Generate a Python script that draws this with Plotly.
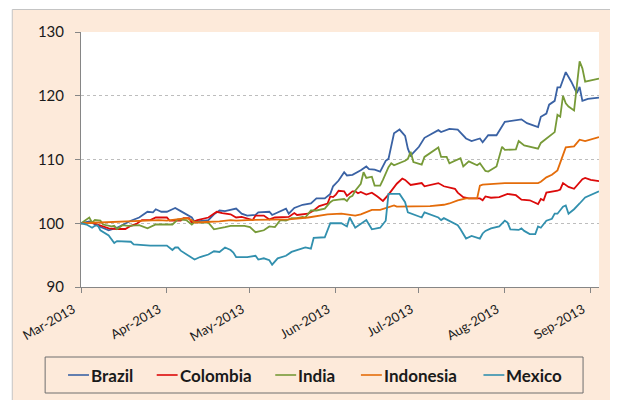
import plotly.graph_objects as go

# ---------------- data ----------------
brazil_dates = ["2013-03-01","2013-03-04","2013-03-07","2013-03-11","2013-03-14","2013-03-19","2013-03-22","2013-03-25","2013-03-27","2013-03-28","2013-03-30",
    "2013-04-01","2013-04-03","2013-04-04","2013-04-06","2013-04-10","2013-04-11","2013-04-12","2013-04-16","2013-04-18","2013-04-20","2013-04-22","2013-04-26","2013-04-28","2013-04-30",
    "2013-05-03","2013-05-04","2013-05-06","2013-05-08","2013-05-09","2013-05-12","2013-05-14","2013-05-15","2013-05-17","2013-05-20","2013-05-23","2013-05-25","2013-05-28","2013-05-30","2013-05-31",
    "2013-06-02","2013-06-04","2013-06-05","2013-06-07","2013-06-10","2013-06-12","2013-06-13","2013-06-15","2013-06-17","2013-06-19","2013-06-20","2013-06-22","2013-06-24","2013-06-26","2013-06-27","2013-06-28",
    "2013-07-01","2013-07-03","2013-07-08","2013-07-09","2013-07-12","2013-07-15","2013-07-18","2013-07-20","2013-07-23","2013-07-24","2013-07-26","2013-07-29",
    "2013-08-01","2013-08-05","2013-08-07","2013-08-09","2013-08-13","2013-08-14","2013-08-16","2013-08-17","2013-08-19","2013-08-20","2013-08-21","2013-08-23","2013-08-25","2013-08-27","2013-08-28","2013-08-29","2013-08-31",
    "2013-09-04"]
brazil = [100,100.3,99.6,98.9,99.3,100.4,100.9,101.8,101.7,102.2,101.8,
    101.8,102.2,102.4,101.9,100.9,100.2,100.3,100.5,101.4,102.0,101.9,102.3,101.5,101.2,
    101.3,101.7,101.7,101.8,101.3,101.9,102.3,101.5,102.4,102.9,103.1,103.9,103.9,104.6,105.8,
    106.7,108.0,107.5,107.6,108.3,108.9,108.5,108.4,108.1,109.8,110.1,114.1,114.7,113.7,111.7,110.6,
    112.0,113.4,114.6,114.3,114.8,114.7,113.3,112.9,113.3,112.7,113.8,113.8,
    115.9,116.1,116.3,115.7,115.1,116.7,117.2,118.6,119.2,121.3,121.3,123.7,122.2,120.4,121.4,119.2,119.5,
    119.7]

colombia_dates = ["2013-03-01","2013-03-05","2013-03-07","2013-03-11","2013-03-14","2013-03-17","2013-03-19","2013-03-21","2013-03-23","2013-03-26","2013-03-28",
    "2013-04-01","2013-04-02","2013-04-06","2013-04-07","2013-04-09","2013-04-10","2013-04-12","2013-04-16","2013-04-17","2013-04-19","2013-04-21","2013-04-23","2013-04-24","2013-04-26","2013-04-28",
    "2013-05-02","2013-05-03","2013-05-06","2013-05-08","2013-05-10","2013-05-15","2013-05-17","2013-05-18","2013-05-22","2013-05-24","2013-05-26","2013-05-29","2013-05-30","2013-05-31",
    "2013-06-01","2013-06-02","2013-06-04","2013-06-05","2013-06-07","2013-06-08","2013-06-09","2013-06-10","2013-06-12","2013-06-14","2013-06-16","2013-06-18","2013-06-20","2013-06-21","2013-06-23","2013-06-25","2013-06-26","2013-06-28",
    "2013-07-02","2013-07-03","2013-07-08","2013-07-10","2013-07-14","2013-07-15","2013-07-17","2013-07-19","2013-07-23","2013-07-24","2013-07-25","2013-07-27","2013-07-30",
    "2013-08-02","2013-08-05","2013-08-07","2013-08-10","2013-08-13","2013-08-14","2013-08-15","2013-08-16","2013-08-20","2013-08-21","2013-08-22","2013-08-24","2013-08-26","2013-08-29","2013-08-30",
    "2013-09-01","2013-09-04"]
colombia = [100,100.1,99.8,99.2,99.1,99.1,99.6,99.9,100.5,100.5,100.9,
    100.9,100.4,100.4,100.8,100.8,100.1,100.5,100.9,101.2,101.8,101.6,101.5,101.4,100.9,101.0,
    100.5,101.2,101.2,100.6,100.9,101.0,101.6,101.3,101.5,102.0,102.7,103.1,104.2,104.1,
    104.5,105.1,105.0,104.3,105.0,105.0,104.7,104.9,104.5,104.8,104.2,103.5,104.5,105.1,106.2,107.0,106.8,106.0,
    106.3,105.8,106.3,105.8,105.4,104.8,104.1,103.9,103.9,103.6,104.2,104.0,104.1,
    104.6,104.4,103.7,103.6,103.0,103.8,103.6,104.8,105.1,105.3,106.3,105.7,105.4,106.9,107.1,
    106.8,106.6]

india_dates = ["2013-03-01","2013-03-04","2013-03-05","2013-03-06","2013-03-08","2013-03-09","2013-03-12","2013-03-13","2013-03-14","2013-03-16","2013-03-18","2013-03-22","2013-03-25","2013-03-28",
    "2013-04-03","2013-04-05","2013-04-08","2013-04-10","2013-04-11","2013-04-13","2013-04-16","2013-04-18","2013-04-22","2013-04-24","2013-04-26","2013-04-29",
    "2013-05-01","2013-05-03","2013-05-06","2013-05-08","2013-05-10","2013-05-12","2013-05-14","2013-05-16","2013-05-18","2013-05-20","2013-05-21","2013-05-23","2013-05-25","2013-05-28","2013-05-30","2013-05-31",
    "2013-06-02","2013-06-04","2013-06-05","2013-06-06","2013-06-07","2013-06-08","2013-06-10","2013-06-11","2013-06-12","2013-06-14","2013-06-15","2013-06-17","2013-06-18","2013-06-20","2013-06-21","2013-06-22","2013-06-26","2013-06-27","2013-06-28","2013-06-29",
    "2013-07-02","2013-07-03","2013-07-08","2013-07-09","2013-07-11","2013-07-12","2013-07-16","2013-07-17","2013-07-19","2013-07-22","2013-07-23","2013-07-25","2013-07-26","2013-07-29","2013-07-31",
    "2013-08-01","2013-08-05","2013-08-06","2013-08-08","2013-08-13","2013-08-14","2013-08-19","2013-08-20","2013-08-21","2013-08-22","2013-08-23","2013-08-24","2013-08-26","2013-08-28","2013-08-29","2013-08-30",
    "2013-09-04"]
india = [100,100.9,100.1,100.5,100.4,99.8,99.5,99.6,99.1,99.7,99.6,99.7,99.2,99.8,
    99.8,100.6,100.5,99.8,100.2,100.1,100.1,99.05,99.4,99.6,99.6,99.6,
    99.4,98.6,98.9,99.5,99.4,100.5,100.4,100.8,100.8,101.0,100.9,102.0,102.0,102.3,103.3,103.6,
    103.7,103.8,103.5,104.1,104.3,105.1,106.2,108.0,107.1,107.3,105.9,105.9,106.8,108.8,109.4,109.1,109.8,110.1,111.2,109.6,
    109.2,110.4,111.9,110.4,110.4,109.4,110.2,108.9,109.7,109.1,109.4,108.2,108.1,108.9,112.0,
    111.5,111.6,112.9,112.2,111.7,112.6,114.3,117.0,116.7,120.0,118.8,118.3,117.7,125.4,124.3,122.2,
    122.7]

indonesia_dates = ["2013-03-01","2013-03-07","2013-03-13","2013-03-19","2013-03-25","2013-03-29",
    "2013-04-01","2013-04-05","2013-04-08","2013-04-10","2013-04-11","2013-04-15","2013-04-20","2013-04-24","2013-04-26","2013-04-30",
    "2013-05-09","2013-05-15","2013-05-22","2013-05-27","2013-05-29",
    "2013-06-03","2013-06-05","2013-06-08","2013-06-10","2013-06-14","2013-06-17","2013-06-21","2013-06-22","2013-06-23","2013-06-27",
    "2013-07-02","2013-07-05","2013-07-10","2013-07-12","2013-07-15","2013-07-18","2013-07-22","2013-07-23","2013-07-24",
    "2013-08-01","2013-08-13","2013-08-14","2013-08-16","2013-08-18","2013-08-20","2013-08-22","2013-08-23","2013-08-26","2013-08-28","2013-08-30",
    "2013-09-04"]
indonesia = [100,100.1,100.2,100.4,100.5,100.5,
    100.4,100.6,100.8,100.5,100.1,100.2,100.3,100.5,100.4,100.5,
    100.5,100.6,100.9,101.3,101.4,
    101.5,101.4,101.2,101.4,102.1,102.1,102.7,102.8,102.6,102.6,
    102.7,102.7,102.9,103.1,103.6,103.9,103.9,105.9,106.05,
    106.3,106.3,106.5,107.2,107.6,108.3,110.6,111.9,112.05,113.1,112.9,
    113.5]

mexico_dates = ["2013-03-01","2013-03-03","2013-03-05","2013-03-06","2013-03-07","2013-03-08","2013-03-11","2013-03-13","2013-03-14","2013-03-16","2013-03-19","2013-03-20","2013-03-23","2013-03-26",
    "2013-04-01","2013-04-03","2013-04-04","2013-04-05","2013-04-06","2013-04-09","2013-04-11","2013-04-13","2013-04-15","2013-04-16","2013-04-18","2013-04-20","2013-04-22","2013-04-24","2013-04-25","2013-04-26","2013-04-30",
    "2013-05-03","2013-05-04","2013-05-06","2013-05-08","2013-05-09","2013-05-11","2013-05-14","2013-05-16","2013-05-21","2013-05-23","2013-05-24","2013-05-28","2013-05-30",
    "2013-06-03","2013-06-05","2013-06-06","2013-06-08","2013-06-12","2013-06-14","2013-06-17","2013-06-19","2013-06-20","2013-06-24","2013-06-26","2013-06-27",
    "2013-07-02","2013-07-03","2013-07-08","2013-07-09","2013-07-10","2013-07-15","2013-07-16","2013-07-18","2013-07-20","2013-07-23","2013-07-24","2013-07-25","2013-07-27","2013-07-30",
    "2013-08-01","2013-08-02","2013-08-03","2013-08-06","2013-08-07","2013-08-08","2013-08-10","2013-08-12","2013-08-13","2013-08-14","2013-08-16","2013-08-18","2013-08-19","2013-08-20","2013-08-22","2013-08-23","2013-08-24","2013-08-26","2013-08-28","2013-08-30",
    "2013-09-04"]
mexico = [100,99.8,99.3,99.6,99.7,98.9,98.1,96.9,97.2,97.2,97.1,96.7,96.6,96.5,
    96.5,95.8,96.2,96.2,95.7,94.8,94.3,94.7,95.0,95.1,95.6,95.5,96.2,95.8,95.4,94.7,94.7,
    94.9,94.3,94.5,94.2,93.5,94.5,94.9,95.5,96.2,96.0,97.7,97.8,100.0,
    100.0,99.5,100.9,99.3,100.5,99.05,99.3,100.4,104.6,104.6,103.3,101.7,
    100.9,101.7,100.9,100.5,100.8,99.7,99.05,97.6,98.0,97.6,98.4,98.8,99.2,99.5,
    100.4,100.1,99.05,98.95,99.2,98.8,98.3,98.3,99.5,99.3,100.4,100.7,101.5,101.5,102.6,102.8,101.5,102.2,103.1,104.05,
    105.0]

tick_dates = ["2013-03-01","2013-04-01","2013-05-01","2013-06-01","2013-07-01","2013-08-01","2013-09-01"]
tick_labels = ["Mar-2013","Apr-2013","May-2013","Jun-2013","Jul-2013","Aug-2013","Sep-2013"]
y_ticks = [90, 100, 110, 120, 130]

series_names = ["Brazil", "Colombia", "India", "Indonesia", "Mexico"]
series_colors = ["#3A62A4", "#DC0A0A", "#779A38", "#E46C0A", "#3290AE"]

# ---------------- figure ----------------
series = list(zip(series_names,
                  [brazil_dates, colombia_dates, india_dates, indonesia_dates, mexico_dates],
                  [brazil, colombia, india, indonesia, mexico],
                  series_colors))

# page body has a default 8px margin, so the figure is placed at (8, 8)
OFF = 8
W, H = 618 - OFF, 400 - OFF
refL, refT, refR, refB = 79, 32, 599, 287   # plot area in page pixels
L, T = refL - OFF, refT - OFF
R, B = 618 - refR, 400 - refB
pw, ph = refR - refL, refB - refT

def px2x(px):
    return (px - refL) / pw

def px2y(py):
    return 1 - (py - refT) / ph

font_family = "Lato, 'Open Sans', sans-serif"
text_col = "#1A1A1A"

fig = go.Figure()
for name, xs, ys, col in series:
    fig.add_trace(go.Scatter(x=xs, y=ys, name=name, mode="lines",
                             line=dict(color=col, width=1.8), showlegend=False))

shapes = [
    # chart area (peach) with thin grey border
    dict(type="rect", xref="paper", yref="paper", layer="below",
         x0=px2x(10), x1=px2x(625), y0=px2y(405), y1=px2y(9.5),
         fillcolor="#FDEADA", line=dict(color="#C4C4C4", width=1)),
    # white plot area
    dict(type="rect", xref="paper", yref="paper", layer="below",
         x0=0, x1=1, y0=0, y1=1, fillcolor="white", line=dict(width=0)),
    # legend box
    dict(type="rect", xref="paper", yref="paper", layer="above",
         x0=px2x(43), x1=px2x(583), y0=px2y(393), y1=px2y(357),
         fillcolor="rgba(0,0,0,0)", line=dict(color="#6E6E6E", width=1)),
]
annotations = []

# legend entries: short line + bold label
legend_line_x = [66, 155, 274, 360, 483]
legend_y = 375
for (name, col), lx in zip(zip(series_names, series_colors), legend_line_x):
    shapes.append(dict(type="line", xref="paper", yref="paper", layer="above",
                       x0=px2x(lx), x1=px2x(lx + 21), y0=px2y(legend_y), y1=px2y(legend_y),
                       line=dict(color=col, width=1.6)))
    annotations.append(dict(xref="paper", yref="paper", x=px2x(lx + 21), y=px2y(legend_y),
                            xanchor="left", yanchor="middle", showarrow=False, text=name,
                            font=dict(size=17, family=font_family, color=text_col, weight="bold")))

fig.update_layout(
    width=W, height=H,
    margin=dict(l=L, r=R, t=T, b=B, pad=0),
    paper_bgcolor="white",
    plot_bgcolor="white",
    font=dict(family=font_family, color=text_col),
    showlegend=False,
    shapes=shapes,
    annotations=annotations,
)

fig.update_xaxes(
    type="date",
    range=["2013-03-01", "2013-09-04"],
    tickvals=tick_dates, ticktext=tick_labels,
    tickangle=-30,
    tickfont=dict(size=13, family=font_family, color=text_col),
    ticks="outside", ticklen=5, tickcolor="#868686",
    ticklabelshift=-8, ticklabelstandoff=4,
    showline=True, linecolor="#868686", linewidth=1,
    showgrid=False, zeroline=False,
)
fig.update_yaxes(
    range=[90, 130], tickvals=y_ticks,
    tickfont=dict(size=15, family=font_family, color=text_col),
    ticks="outside", ticklen=5, tickcolor="#868686",
    ticklabelstandoff=8,
    showline=True, linecolor="#868686", linewidth=1,
    showgrid=True, gridcolor="#BDBDBD", griddash="dot", gridwidth=1,
    zeroline=False,
)

fig.write_html("out.html")
